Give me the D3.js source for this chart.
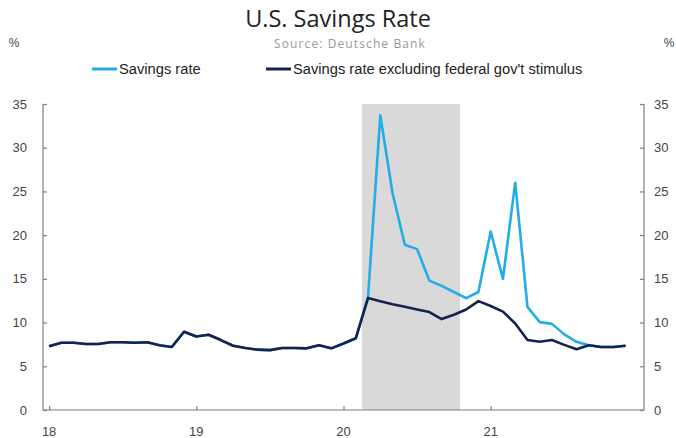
<!DOCTYPE html>
<html>
<head>
<meta charset="utf-8">
<script src="https://cdn.jsdelivr.net/npm/d3@7"></script>
<style>
  html, body { margin: 0; padding: 0; background: #fff; }
  svg { display: block; }
</style>
</head>
<body>
<svg id="chart" width="676" height="438"></svg>
<script>
// ---- Data (monthly, Jan 2018 .. Dec 2021) ----
const monthIndex = d3.range(48); // 0 = Jan 2018
const savingsRate = [
  7.3, 7.7, 7.7, 7.55, 7.55, 7.75, 7.75, 7.7, 7.75, 7.4, 7.2, 8.95,
  8.4, 8.6, 8.0, 7.35, 7.1, 6.9, 6.85, 7.1, 7.1, 7.05, 7.4, 7.05,
  7.6, 8.2, 12.9, 33.7, 24.8, 18.9, 18.4, 14.8, 14.2, 13.5, 12.8, 13.5,
  20.4, 15.0, 26.0, 11.8, 10.05, 9.85, 8.65, 7.8, 7.4, 7.2, 7.2, 7.35
];
const savingsExStimulus = [
  7.3, 7.7, 7.7, 7.55, 7.55, 7.75, 7.75, 7.7, 7.75, 7.4, 7.2, 8.95,
  8.4, 8.6, 8.0, 7.35, 7.1, 6.9, 6.85, 7.1, 7.1, 7.05, 7.4, 7.05,
  7.6, 8.2, 12.8, 12.45, 12.1, 11.8, 11.5, 11.2, 10.4, 10.9, 11.5, 12.45,
  11.9, 11.25, 9.9, 8.0, 7.8, 8.0, 7.45, 6.95, 7.4, 7.2, 7.2, 7.35
];
const yearTickIndex = [0, 12, 24, 36];
const yearTickLabels = ["18", "19", "20", "21"];
const yTicks = [0, 5, 10, 15, 20, 25, 30, 35];
const shadeRange = [25.5, 33.5]; // shaded period, in month index units
const seriesNames = ["Savings rate", "Savings rate excluding federal gov't stimulus"];

(function () {
// ---- Layout ----
const svg = d3.select("#chart");
const pL = 43, pR = 644, pT = 104, pB = 410;
const colLight = "#22ade6", colDark = "#15224f";

const x = d3.scaleLinear().domain([-0.5, 48.5]).range([pL, pR]);
const y = d3.scaleLinear().domain([0, 35]).range([pB, pT]);

// Title + source
svg.append("text").attr("x", 338).attr("y", 27).attr("text-anchor", "middle")
  .attr("font-family", "'Open Sans', sans-serif").attr("font-size", 23.5)
  .attr("fill", "#222").text("U.S. Savings Rate");
svg.append("text").attr("x", 350).attr("y", 48).attr("text-anchor", "middle")
  .attr("font-family", "'Open Sans', sans-serif").attr("font-size", 12)
  .attr("letter-spacing", 1.1)
  .attr("fill", "#999").text("Source: Deutsche Bank");

// % labels
const tickFont = "'Liberation Sans', Arial, sans-serif";
svg.append("text").attr("x", 14).attr("y", 47).attr("text-anchor", "middle")
  .attr("font-family", tickFont).attr("font-size", 12).attr("fill", "#444").text("%");
svg.append("text").attr("x", 669).attr("y", 47).attr("text-anchor", "middle")
  .attr("font-family", tickFont).attr("font-size", 12).attr("fill", "#444").text("%");

// Legend
const legend = [
  {name: seriesNames[0], color: colLight, x1: 92, x2: 117, tx: 119},
  {name: seriesNames[1], color: colDark, x1: 266, x2: 291, tx: 293}
];
legend.forEach(l => {
  svg.append("line").attr("x1", l.x1).attr("x2", l.x2).attr("y1", 69).attr("y2", 69)
    .attr("stroke", l.color).attr("stroke-width", 3);
  svg.append("text").attr("x", l.tx).attr("y", 74)
    .attr("font-family", tickFont).attr("font-size", 14.7).attr("fill", "#222")
    .text(l.name);
});

// Shading
svg.append("rect")
  .attr("x", x(shadeRange[0])).attr("y", y(35))
  .attr("width", x(shadeRange[1]) - x(shadeRange[0]))
  .attr("height", y(0) - y(35))
  .attr("fill", "#d9d9d9");

// Axes
const axisColor = "#7f7f7f";
const gL = svg.append("g").attr("transform", `translate(${pL},0)`)
  .call(d3.axisRight(y).tickValues(yTicks).tickSize(4).tickFormat(""));
const gR = svg.append("g").attr("transform", `translate(${pR},0)`)
  .call(d3.axisLeft(y).tickValues(yTicks).tickSize(4).tickFormat(""));
const gB = svg.append("g").attr("transform", `translate(0,${pB})`)
  .call(d3.axisTop(x).tickValues(yearTickIndex).tickSize(4).tickFormat(""));
[gL, gR, gB].forEach(g => {
  g.select(".domain").attr("stroke", axisColor).attr("stroke-width", 1.2);
  g.selectAll(".tick line").attr("stroke", axisColor).attr("stroke-width", 1.2);
});
gB.select(".domain").attr("d", `M${pL},0H${pR}`);
gL.select(".domain").attr("d", `M0,${pT}V${pB}`);
gR.select(".domain").attr("d", `M0,${pT}V${pB}`);

// Tick labels
svg.append("g").selectAll("text").data(yTicks).join("text")
  .attr("x", 27).attr("y", d => y(d) + 4.5).attr("text-anchor", "end")
  .attr("font-family", tickFont).attr("font-size", 13).attr("fill", "#444")
  .text(d => d);
svg.append("g").selectAll("text").data(yTicks).join("text")
  .attr("x", 654).attr("y", d => y(d) + 4.5).attr("text-anchor", "start")
  .attr("font-family", tickFont).attr("font-size", 13).attr("fill", "#444")
  .text(d => d);
svg.append("g").selectAll("text").data(yearTickIndex).join("text")
  .attr("x", d => x(d)).attr("y", 436).attr("text-anchor", "middle")
  .attr("font-family", tickFont).attr("font-size", 13).attr("fill", "#444")
  .text((d, i) => yearTickLabels[i]);

// Lines
const line = d3.line().x((d, i) => x(monthIndex[i])).y(d => y(d));
svg.append("path").datum(savingsRate).attr("d", line)
  .attr("fill", "none").attr("stroke", colLight).attr("stroke-width", 2.6)
  .attr("stroke-linejoin", "round");
svg.append("path").datum(savingsExStimulus).attr("d", line)
  .attr("fill", "none").attr("stroke", colDark).attr("stroke-width", 2.6)
  .attr("stroke-linejoin", "round");
})();
</script>
</body>
</html>
